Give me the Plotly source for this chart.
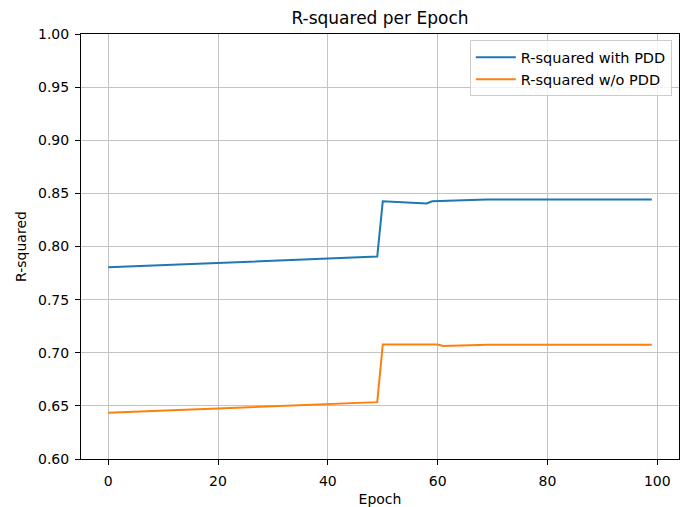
import plotly.graph_objects as go

epochs_with = [0, 49, 50, 58, 59, 69, 99]
r2_with = [0.7805, 0.7905, 0.8425, 0.8405, 0.8425, 0.8442, 0.8442]

epochs_wo = [0, 49, 50, 60, 61, 69, 99]
r2_wo = [0.6435, 0.6535, 0.7078, 0.7078, 0.7063, 0.7076, 0.7076]

xticks = [0, 20, 40, 60, 80, 100]
yticks = [0.60, 0.65, 0.70, 0.75, 0.80, 0.85, 0.90, 0.95, 1.00]

FONT = "DejaVu Sans"

fig = go.Figure()
fig.add_trace(go.Scatter(x=epochs_with, y=r2_with, mode="lines",
                         name="R-squared with PDD",
                         line=dict(color="#1f77b4", width=2)))
fig.add_trace(go.Scatter(x=epochs_wo, y=r2_wo, mode="lines",
                         name="R-squared w/o PDD",
                         line=dict(color="#ff7f0e", width=2)))

axis_common = dict(showline=True, linecolor="black", linewidth=1, mirror=True,
                   ticks="outside", ticklen=5, tickcolor="black",
                   showgrid=True, gridcolor="#c4c4c4", gridwidth=1,
                   zeroline=False, automargin=False,
                   tickfont=dict(family=FONT, size=14, color="black"))

fig.update_layout(
    width=688, height=507,
    margin=dict(l=81, r=9, t=34, b=48),
    paper_bgcolor="white", plot_bgcolor="white",
    font=dict(family=FONT, size=14, color="black"),
    title=dict(text="R-squared per Epoch", x=0.5523, xanchor="center",
               y=1 - 18 / 507, yanchor="middle", yref="container",
               font=dict(family=FONT, size=17, color="black")),
    xaxis=dict(range=[-4.95, 103.95], tickvals=xticks,
               ticktext=[str(v) for v in xticks],
               ticklabelstandoff=4,
               title=dict(text="Epoch", font=dict(family=FONT, size=14), standoff=6),
               **axis_common),
    yaxis=dict(range=[0.60, 1.00], tickvals=yticks,
               ticktext=[f"{v:.2f}" for v in yticks],
               ticklabelstandoff=3,
               title=dict(text="R-squared", font=dict(family=FONT, size=14), standoff=8),
               **axis_common),
    legend=dict(x=0.988, xanchor="right", y=0.985, yanchor="top",
                bgcolor="rgba(255,255,255,0.8)", bordercolor="#cccccc", borderwidth=1,
                font=dict(family=FONT, size=14.5, color="black"),
                tracegroupgap=0, itemwidth=40),
    showlegend=True,
)

fig.write_html("out.html")
